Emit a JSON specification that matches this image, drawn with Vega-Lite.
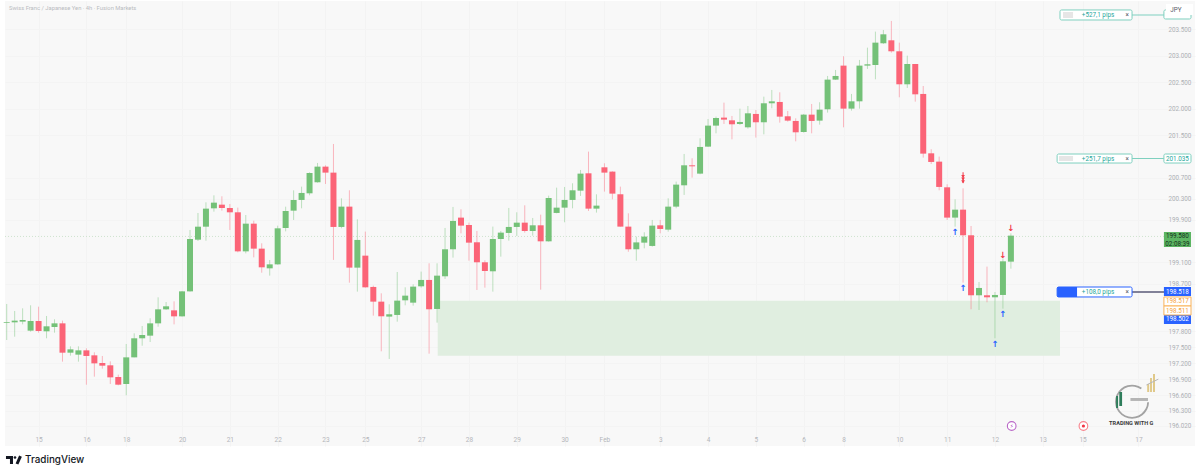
{
  "$schema": "https://vega.github.io/schema/vega-lite/v6.json",
  "description": "CHF/JPY 4h candlestick chart with demand zone and price tags.",
  "width": 1190,
  "height": 445,
  "padding": {"left": 5, "top": 1, "right": 5, "bottom": 29},
  "autosize": "none",
  "background": "#ffffff",
  "view": {"fill": "#f8f8f8", "stroke": null},
  "config": {"text": {"font": "Roboto"}, "axis": {"labelFont": "Roboto", "labelOverlap": false}},
  "datasets": {
    "candles": [
      {"i":0,"dir":"up","open":197.965,"high":198.317,"low":197.638,"close":197.977},
      {"i":1,"dir":"up","open":197.971,"high":198.185,"low":197.701,"close":198.003},
      {"i":2,"dir":"up","open":197.984,"high":198.235,"low":197.933,"close":198.015},
      {"i":3,"dir":"up","open":197.814,"high":198.292,"low":197.795,"close":197.996},
      {"i":4,"dir":"down","open":197.996,"high":198.266,"low":197.776,"close":197.808},
      {"i":5,"dir":"up","open":197.802,"high":198.091,"low":197.670,"close":197.896},
      {"i":6,"dir":"up","open":197.883,"high":198.028,"low":197.776,"close":197.952},
      {"i":7,"dir":"down","open":197.952,"high":198.003,"low":197.230,"close":197.399},
      {"i":8,"dir":"up","open":197.399,"high":197.519,"low":197.343,"close":197.462},
      {"i":9,"dir":"up","open":197.362,"high":197.519,"low":197.230,"close":197.443},
      {"i":10,"dir":"down","open":197.443,"high":197.481,"low":196.796,"close":197.337},
      {"i":11,"dir":"down","open":197.349,"high":197.406,"low":196.947,"close":197.198},
      {"i":12,"dir":"down","open":197.205,"high":197.337,"low":197.098,"close":197.154},
      {"i":13,"dir":"down","open":197.161,"high":197.236,"low":196.809,"close":196.934},
      {"i":14,"dir":"down","open":196.941,"high":196.985,"low":196.784,"close":196.796},
      {"i":15,"dir":"up","open":196.809,"high":197.563,"low":196.595,"close":197.311},
      {"i":16,"dir":"up","open":197.311,"high":197.764,"low":197.311,"close":197.670},
      {"i":17,"dir":"up","open":197.670,"high":197.902,"low":197.531,"close":197.732},
      {"i":18,"dir":"up","open":197.720,"high":198.047,"low":197.600,"close":197.952},
      {"i":19,"dir":"up","open":197.952,"high":198.442,"low":197.889,"close":198.216},
      {"i":20,"dir":"up","open":198.216,"high":198.354,"low":198.204,"close":198.273},
      {"i":21,"dir":"down","open":198.197,"high":198.367,"low":197.933,"close":198.084},
      {"i":22,"dir":"up","open":198.084,"high":198.562,"low":198.078,"close":198.555},
      {"i":23,"dir":"up","open":198.555,"high":199.712,"low":198.549,"close":199.542},
      {"i":24,"dir":"up","open":199.529,"high":200.032,"low":199.504,"close":199.774},
      {"i":25,"dir":"up","open":199.774,"high":200.233,"low":199.510,"close":200.114},
      {"i":26,"dir":"up","open":200.120,"high":200.365,"low":200.057,"close":200.227},
      {"i":27,"dir":"down","open":200.189,"high":200.346,"low":200.076,"close":200.126},
      {"i":28,"dir":"down","open":200.126,"high":200.202,"low":199.712,"close":200.045},
      {"i":29,"dir":"down","open":200.045,"high":200.133,"low":199.291,"close":199.309},
      {"i":30,"dir":"up","open":199.309,"high":199.994,"low":199.272,"close":199.831},
      {"i":31,"dir":"down","open":199.831,"high":199.887,"low":199.196,"close":199.360},
      {"i":32,"dir":"down","open":199.360,"high":199.460,"low":198.907,"close":199.008},
      {"i":33,"dir":"up","open":198.989,"high":199.146,"low":198.851,"close":199.064},
      {"i":34,"dir":"up","open":199.064,"high":199.793,"low":199.058,"close":199.743},
      {"i":35,"dir":"up","open":199.749,"high":200.151,"low":199.686,"close":200.070},
      {"i":36,"dir":"up","open":200.076,"high":200.459,"low":199.900,"close":200.277},
      {"i":37,"dir":"up","open":200.278,"high":200.529,"low":200.120,"close":200.410},
      {"i":38,"dir":"up","open":200.403,"high":200.799,"low":200.366,"close":200.786},
      {"i":39,"dir":"up","open":200.611,"high":200.975,"low":200.604,"close":200.906},
      {"i":40,"dir":"down","open":200.906,"high":200.931,"low":200.579,"close":200.793},
      {"i":41,"dir":"down","open":200.793,"high":201.333,"low":199.147,"close":199.769},
      {"i":42,"dir":"up","open":199.769,"high":200.309,"low":199.744,"close":200.152},
      {"i":43,"dir":"down","open":200.152,"high":200.460,"low":198.719,"close":199.002},
      {"i":44,"dir":"up","open":199.002,"high":199.913,"low":198.550,"close":199.524},
      {"i":45,"dir":"down","open":199.228,"high":199.681,"low":198.625,"close":198.631},
      {"i":46,"dir":"down","open":198.638,"high":198.663,"low":198.097,"close":198.361},
      {"i":47,"dir":"down","open":198.361,"high":198.518,"low":197.425,"close":198.085},
      {"i":48,"dir":"up","open":198.079,"high":198.311,"low":197.281,"close":198.123},
      {"i":49,"dir":"up","open":198.110,"high":198.920,"low":197.984,"close":198.380},
      {"i":50,"dir":"up","open":198.386,"high":198.631,"low":198.292,"close":198.474},
      {"i":51,"dir":"up","open":198.342,"high":198.688,"low":198.286,"close":198.644},
      {"i":52,"dir":"up","open":198.650,"high":198.927,"low":198.625,"close":198.770},
      {"i":53,"dir":"down","open":198.770,"high":199.084,"low":197.381,"close":198.217},
      {"i":54,"dir":"up","open":198.223,"high":199.084,"low":197.965,"close":198.851},
      {"i":55,"dir":"up","open":198.839,"high":199.750,"low":198.789,"close":199.348},
      {"i":56,"dir":"up","open":199.348,"high":200.146,"low":199.191,"close":199.882},
      {"i":57,"dir":"down","open":199.945,"high":200.102,"low":199.649,"close":199.794},
      {"i":58,"dir":"down","open":199.806,"high":199.850,"low":199.134,"close":199.473},
      {"i":59,"dir":"down","open":199.480,"high":199.693,"low":198.581,"close":199.103},
      {"i":60,"dir":"down","open":199.103,"high":199.140,"low":198.625,"close":198.939},
      {"i":61,"dir":"up","open":198.933,"high":199.775,"low":198.550,"close":199.542},
      {"i":62,"dir":"up","open":199.542,"high":199.693,"low":199.209,"close":199.662},
      {"i":63,"dir":"up","open":199.656,"high":200.127,"low":199.511,"close":199.769},
      {"i":64,"dir":"up","open":199.769,"high":200.045,"low":199.599,"close":199.850},
      {"i":65,"dir":"down","open":199.850,"high":200.177,"low":199.662,"close":199.693},
      {"i":66,"dir":"up","open":199.693,"high":199.938,"low":199.605,"close":199.800},
      {"i":67,"dir":"down","open":199.800,"high":200.001,"low":198.587,"close":199.498},
      {"i":68,"dir":"up","open":199.498,"high":200.359,"low":199.492,"close":200.315},
      {"i":69,"dir":"up","open":200.033,"high":200.510,"low":200.026,"close":200.133},
      {"i":70,"dir":"up","open":200.133,"high":200.523,"low":199.857,"close":200.278},
      {"i":71,"dir":"up","open":200.278,"high":200.592,"low":200.120,"close":200.460},
      {"i":72,"dir":"up","open":200.453,"high":200.843,"low":200.353,"close":200.774},
      {"i":73,"dir":"down","open":200.780,"high":201.189,"low":200.070,"close":200.114},
      {"i":74,"dir":"up","open":200.114,"high":200.384,"low":200.039,"close":200.171},
      {"i":75,"dir":"down","open":200.893,"high":200.969,"low":200.435,"close":200.793},
      {"i":76,"dir":"down","open":200.812,"high":200.818,"low":200.290,"close":200.397},
      {"i":77,"dir":"down","open":200.385,"high":200.529,"low":199.775,"close":199.775},
      {"i":78,"dir":"down","open":199.775,"high":200.026,"low":199.302,"close":199.348},
      {"i":79,"dir":"up","open":199.348,"high":199.587,"low":199.133,"close":199.478},
      {"i":80,"dir":"up","open":199.473,"high":199.668,"low":199.366,"close":199.587},
      {"i":81,"dir":"up","open":199.411,"high":199.901,"low":199.398,"close":199.794},
      {"i":82,"dir":"down","open":199.800,"high":199.901,"low":199.649,"close":199.731},
      {"i":83,"dir":"up","open":199.718,"high":200.309,"low":199.681,"close":200.152},
      {"i":84,"dir":"up","open":200.152,"high":200.623,"low":200.121,"close":200.567},
      {"i":85,"dir":"up","open":200.554,"high":201.145,"low":200.372,"close":200.931},
      {"i":86,"dir":"down","open":200.931,"high":201.063,"low":200.699,"close":200.912},
      {"i":87,"dir":"up","open":200.774,"high":201.440,"low":200.762,"close":201.277},
      {"i":88,"dir":"up","open":201.283,"high":201.804,"low":201.277,"close":201.679},
      {"i":89,"dir":"up","open":201.679,"high":201.848,"low":201.534,"close":201.823},
      {"i":90,"dir":"down","open":201.830,"high":202.112,"low":201.710,"close":201.792},
      {"i":91,"dir":"down","open":201.779,"high":201.861,"low":201.421,"close":201.704},
      {"i":92,"dir":"up","open":201.710,"high":201.999,"low":201.691,"close":201.748},
      {"i":93,"dir":"up","open":201.647,"high":202.049,"low":201.622,"close":201.911},
      {"i":94,"dir":"down","open":201.899,"high":201.974,"low":201.453,"close":201.742},
      {"i":95,"dir":"up","open":201.742,"high":202.225,"low":201.515,"close":202.100},
      {"i":96,"dir":"up","open":202.100,"high":202.351,"low":202.006,"close":202.137},
      {"i":97,"dir":"down","open":202.125,"high":202.307,"low":201.735,"close":201.848},
      {"i":98,"dir":"down","open":201.855,"high":201.955,"low":201.754,"close":201.773},
      {"i":99,"dir":"down","open":201.767,"high":201.817,"low":201.383,"close":201.553},
      {"i":100,"dir":"up","open":201.559,"high":201.899,"low":201.547,"close":201.886},
      {"i":101,"dir":"down","open":201.886,"high":202.087,"low":201.534,"close":201.767},
      {"i":102,"dir":"up","open":201.773,"high":202.119,"low":201.698,"close":201.980},
      {"i":103,"dir":"up","open":201.987,"high":202.615,"low":201.924,"close":202.546},
      {"i":104,"dir":"up","open":202.546,"high":202.728,"low":202.540,"close":202.615},
      {"i":105,"dir":"down","open":202.810,"high":202.986,"low":201.647,"close":201.999},
      {"i":106,"dir":"up","open":201.999,"high":202.276,"low":201.962,"close":202.137},
      {"i":107,"dir":"up","open":202.137,"high":202.917,"low":201.999,"close":202.810},
      {"i":108,"dir":"up","open":202.810,"high":203.149,"low":202.747,"close":202.835},
      {"i":109,"dir":"up","open":202.822,"high":203.451,"low":202.552,"close":203.243},
      {"i":110,"dir":"up","open":203.231,"high":203.482,"low":203.218,"close":203.400},
      {"i":111,"dir":"down","open":203.287,"high":203.652,"low":203.055,"close":203.080},
      {"i":112,"dir":"down","open":203.080,"high":203.243,"low":202.213,"close":202.458},
      {"i":113,"dir":"up","open":202.458,"high":202.998,"low":202.389,"close":202.841},
      {"i":114,"dir":"down","open":202.841,"high":202.841,"low":202.131,"close":202.269},
      {"i":115,"dir":"down","open":202.276,"high":202.426,"low":201.076,"close":201.151},
      {"i":116,"dir":"down","open":201.157,"high":201.233,"low":200.956,"close":200.994},
      {"i":117,"dir":"down","open":201.000,"high":201.094,"low":200.460,"close":200.523},
      {"i":118,"dir":"down","open":200.516,"high":200.573,"low":199.901,"close":199.945},
      {"i":119,"dir":"up","open":199.945,"high":200.290,"low":199.775,"close":200.095},
      {"i":120,"dir":"down","open":200.095,"high":200.497,"low":198.719,"close":199.612},
      {"i":121,"dir":"down","open":199.612,"high":199.787,"low":198.217,"close":198.481},
      {"i":122,"dir":"up","open":198.481,"high":198.732,"low":198.204,"close":198.619},
      {"i":123,"dir":"down","open":198.481,"high":199.021,"low":198.349,"close":198.443},
      {"i":124,"dir":"up","open":198.443,"high":198.543,"low":197.670,"close":198.487},
      {"i":125,"dir":"up","open":198.487,"high":199.178,"low":198.229,"close":199.121},
      {"i":126,"dir":"up","open":199.115,"high":199.649,"low":198.983,"close":199.605}
    ]
  },
  "encoding": {
    "x": {
      "field": "i",
      "type": "quantitative",
      "scale": {"domain": [-0.213, 149.1], "nice": false, "zero": false, "padding": 0},
      "axis": {
        "title": null,
        "domain": false,
        "ticks": false,
        "grid": true,
        "gridColor": "#f3f3f3",
        "tickCount": 60,
        "values": [4,10,15,22,28,34,40,45,52,58,64,70,75,82,88,94,100,105,112,118,124,130,135,142],
        "labelExpr": "{'4':'15','10':'16','15':'18','22':'20','28':'21','34':'22','40':'23','45':'25','52':'27','58':'28','64':'29','70':'30','75':'Feb','82':'3','88':'4','94':'5','100':'6','105':'8','112':'10','118':'11','124':'12','130':'13','135':'15','142':'17'}[datum.value]",
        "labelColor": "#b4b6ba",
        "labelFontSize": 6.5,
        "labelPadding": -10,
        "labelFlush": false,
        "labelOverlap": false
      }
    },
    "y": {
      "field": "p",
      "type": "quantitative",
      "title": null,
      "scale": {"domain": [195.64, 204.028], "nice": false, "zero": false},
      "axis": {
        "title": null,
        "orient": "right",
        "domain": false,
        "ticks": false,
        "grid": true,
        "gridColor": "#f4f4f4",
        "tickCount": 60,
        "values": [203.5,203,202.5,202,201.5,200.7,200.3,199.9,199.1,198.7,197.8,197.5,197.2,196.9,196.6,196.3,196.02],
        "format": ".3f",
        "labelColor": "#adb0b5",
        "labelFontSize": 6.3,
        "labelPadding": -27,
        "labelFlush": false,
        "labelOverlap": false
      }
    }
  },
  "layer": [
    {
      "data": {"values": [{"i": 54.08, "i2": 132.16, "p": 198.379, "p2": 197.342}]},
      "mark": {"type": "rect", "fill": "#e0eee0"},
      "encoding": {"x2": {"field": "i2"}, "y2": {"field": "p2"}}
    },
    {
      "data": {"values": [{"i": -0.213, "i2": 145.2, "p": 199.59}]},
      "mark": {"type": "rule", "color": "#cfe3cf", "strokeWidth": 1, "strokeDash": [1, 2]},
      "encoding": {"x2": {"field": "i2"}}
    },
    {
      "data": {"name": "candles"},
      "mark": {"type": "rule", "strokeWidth": 1, "opacity": 0.45},
      "encoding": {
        "y": {"field": "high", "type": "quantitative", "title": null, "scale": {"domain": [195.64, 204.028], "nice": false, "zero": false}, "axis": {"orient": "right", "title": null, "labelOverlap": false, "tickCount": 60}},
        "y2": {"field": "low"},
        "color": {"field": "dir", "type": "nominal", "scale": {"domain": ["up", "down"], "range": ["#74c178", "#fb6477"]}, "legend": null}
      }
    },
    {
      "data": {"name": "candles"},
      "mark": {"type": "bar", "size": 6},
      "encoding": {
        "y": {"field": "open", "type": "quantitative", "title": null, "scale": {"domain": [195.64, 204.028], "nice": false, "zero": false}, "axis": {"orient": "right", "title": null, "labelOverlap": false, "tickCount": 60}},
        "y2": {"field": "close"},
        "color": {"field": "dir", "type": "nominal", "scale": {"domain": ["up", "down"], "range": ["#74c178", "#fb6477"]}, "legend": null}
      }
    },
    {
      "data": {"values": [
        {"i": 141.2, "i2": 145.3, "p": 203.764},
        {"i": 141.2, "i2": 145.3, "p": 201.059}
      ]},
      "mark": {"type": "rule", "color": "#7fd0bf", "strokeWidth": 1.2},
      "encoding": {"x2": {"field": "i2"}}
    },
    {
      "data": {"values": [{"i": 141.2, "i2": 145.3, "p": 198.543}]},
      "mark": {"type": "rule", "color": "#5a5a78", "strokeWidth": 1.5},
      "encoding": {"x2": {"field": "i2"}}
    },
    {
      "data": {"values": [
        {"i": 132.16, "i2": 141.2, "p": 203.859, "p2": 203.67},
        {"i": 131.8, "i2": 141.2, "p": 201.144, "p2": 200.974},
        {"i": 145.2, "i2": 148.6, "p": 201.144, "p2": 200.974},
        {"i": 145.2, "i2": 148.6, "p": 203.859, "p2": 203.689}
      ]},
      "mark": {"type": "rect", "fill": "#ffffff", "stroke": "#7fd0bf", "strokeWidth": 1, "cornerRadius": 1.5},
      "encoding": {"x2": {"field": "i2"}, "y2": {"field": "p2"}}
    },
    {
      "data": {"values": [{"i": 131.8, "i2": 141.2, "p": 198.637, "p2": 198.449}]},
      "mark": {"type": "rect", "fill": "#ffffff", "stroke": "#2962ff", "strokeWidth": 1, "cornerRadius": 1.5},
      "encoding": {"x2": {"field": "i2"}, "y2": {"field": "p2"}}
    },
    {
      "data": {"values": [
        {"i": 132.54, "i2": 133.8, "p": 203.821, "p2": 203.708},
        {"i": 132.04, "i2": 133.8, "p": 201.106, "p2": 201.012}
      ]},
      "mark": {"type": "rect", "fill": "#e6e6e6"},
      "encoding": {"x2": {"field": "i2"}, "y2": {"field": "p2"}}
    },
    {
      "data": {"values": [
        {"i": 131.8, "i2": 134.3, "p": 198.637, "p2": 198.449},
        {"i": 145.2, "i2": 148.6, "p": 198.637, "p2": 198.467},
        {"i": 145.2, "i2": 148.6, "p": 198.109, "p2": 197.94}
      ]},
      "mark": {"type": "rect", "fill": "#2962ff"},
      "encoding": {"x2": {"field": "i2"}, "y2": {"field": "p2"}}
    },
    {
      "data": {"values": [
        {"i": 145.2, "i2": 148.6, "p": 198.449, "p2": 198.279},
        {"i": 145.2, "i2": 148.6, "p": 198.279, "p2": 198.109}
      ]},
      "mark": {"type": "rect", "fill": "#ffffff", "stroke": "#f9b35c", "strokeWidth": 1},
      "encoding": {"x2": {"field": "i2"}, "y2": {"field": "p2"}}
    },
    {
      "data": {"values": [{"i": 145.2, "i2": 148.6, "p": 199.674, "p2": 199.391}]},
      "mark": {"type": "rect", "fill": "#5cb562"},
      "encoding": {"x2": {"field": "i2"}, "y2": {"field": "p2"}}
    },
    {
      "data": {"values": [{"i": 145.46, "i2": 148.85, "p": 203.971, "p2": 203.764}]},
      "mark": {"type": "rect", "fill": "#ffffff"},
      "encoding": {"x2": {"field": "i2"}, "y2": {"field": "p2"}}
    },
    {
      "data": {"values": [
        {"i": 136.93, "p": 203.764, "label": "+527,1 pips"},
        {"i": 136.93, "p": 201.059, "label": "+251,7 pips"},
        {"i": 136.93, "p": 198.543, "label": "+108,0 pips"},
        {"i": 146.9, "p": 201.059, "label": "201.035"}
      ]},
      "mark": {"type": "text", "color": "#26a69a", "fontSize": 6.3},
      "encoding": {"text": {"field": "label"}}
    },
    {
      "data": {"values": [
        {"i": 140.6, "p": 203.764, "label": "×"},
        {"i": 140.6, "p": 201.059, "label": "×"},
        {"i": 140.6, "p": 198.543, "label": "×"},
        {"i": 146.7, "p": 203.865, "label": "JPY"}
      ]},
      "mark": {"type": "text", "color": "#555a66", "fontSize": 6.3},
      "encoding": {"text": {"field": "label"}}
    },
    {
      "data": {"values": [
        {"i": 146.9, "p": 198.552, "label": "198.518"},
        {"i": 146.9, "p": 198.025, "label": "198.502"}
      ]},
      "mark": {"type": "text", "color": "#ffffff", "fontSize": 6.3},
      "encoding": {"text": {"field": "label"}}
    },
    {
      "data": {"values": [
        {"i": 146.9, "p": 198.364, "label": "198.517"},
        {"i": 146.9, "p": 198.194, "label": "198.511"}
      ]},
      "mark": {"type": "text", "color": "#f5a03c", "fontSize": 6.3},
      "encoding": {"text": {"field": "label"}}
    },
    {
      "data": {"values": [
        {"i": 146.9, "p": 199.589, "label": "199.580"},
        {"i": 146.9, "p": 199.457, "label": "02:08:39"}
      ]},
      "mark": {"type": "text", "color": "#14301a", "fontSize": 6.3},
      "encoding": {"text": {"field": "label"}}
    },
    {
      "data": {"values": [{"i": 0.29, "p": 203.89, "label": "Swiss Franc / Japanese Yen · 4h · Fusion Markets"}]},
      "mark": {"type": "text", "color": "#b9bbbf", "fontSize": 5.8, "align": "left"},
      "encoding": {"text": {"field": "label"}}
    },
    {
      "data": {"values": [
        {"i": 119, "p": 199.674, "label": "↑"},
        {"i": 120, "p": 198.618, "label": "↑"},
        {"i": 125, "p": 198.128, "label": "↑"},
        {"i": 124, "p": 197.563, "label": "↑"}
      ]},
      "mark": {"type": "text", "color": "#2962ff", "font": "DejaVu Sans", "fontSize": 8.5, "fontWeight": "bold"},
      "encoding": {"text": {"field": "label"}}
    },
    {
      "data": {"values": [
        {"i": 125, "p": 199.24, "label": "↓"},
        {"i": 126, "p": 199.749, "label": "↓"}
      ]},
      "mark": {"type": "text", "color": "#f23645", "font": "DejaVu Sans", "fontSize": 8.5, "fontWeight": "bold"},
      "encoding": {"text": {"field": "label"}}
    },
    {
      "data": {"values": [{"i": 120, "p": 200.8, "p2": 200.6}]},
      "mark": {"type": "rule", "color": "#f23645", "strokeWidth": 1},
      "encoding": {"y2": {"field": "p2"}}
    },
    {
      "data": {"values": [
        {"i": 120, "p": 200.72},
        {"i": 120, "p": 200.67},
        {"i": 120, "p": 200.62}
      ]},
      "mark": {"type": "point", "shape": "triangle-down", "size": 14, "filled": true, "color": "#f23645", "opacity": 0.9}
    },
    {
      "data": {"values": [{"i": 126.1, "p": 196.017}]},
      "mark": {"type": "point", "shape": "circle", "size": 75, "filled": false, "fill": "#ffffff", "fillOpacity": 1, "stroke": "#ba68c8", "strokeWidth": 1.1}
    },
    {
      "data": {"values": [{"i": 126.1, "p": 196.017, "label": "⚡"}]},
      "mark": {"type": "text", "color": "#9c27b0", "font": "DejaVu Sans", "fontSize": 5.5},
      "encoding": {"text": {"field": "label"}}
    },
    {
      "data": {"values": [{"i": 135.1, "p": 196.017}]},
      "mark": {"type": "point", "shape": "circle", "size": 75, "filled": false, "fill": "#ffffff", "fillOpacity": 1, "stroke": "#f7828c", "strokeWidth": 1.1}
    },
    {
      "data": {"values": [{"i": 135.1, "p": 196.017}]},
      "mark": {"type": "point", "shape": "circle", "size": 10, "filled": true, "color": "#f23645", "opacity": 1}
    },
    {
      "data": {"values": [{"i": 141.2, "p": 196.475}]},
      "mark": {"type": "arc", "radius": 17, "radius2": 15.2, "theta": 1.6, "theta2": 6.9, "fill": "#a3a3a3"}
    },
    {
      "data": {"values": [{"i": 141.0, "i2": 143.2, "p": 196.545, "p2": 196.489}]},
      "mark": {"type": "rect", "fill": "#b5b5b5"},
      "encoding": {"x2": {"field": "i2"}, "y2": {"field": "p2"}}
    },
    {
      "data": {"values": [
        {"i": 139.2, "i2": 139.45, "p": 196.582, "p2": 196.356},
        {"i": 139.6, "i2": 139.95, "p": 196.658, "p2": 196.394}
      ]},
      "mark": {"type": "rect", "fill": "#2e7d5b"},
      "encoding": {"x2": {"field": "i2"}, "y2": {"field": "p2"}}
    },
    {
      "data": {"values": [
        {"i": 143.1, "i2": 143.35, "p": 196.809, "p2": 196.658},
        {"i": 143.46, "i2": 143.7, "p": 196.922, "p2": 196.658},
        {"i": 143.83, "i2": 144.08, "p": 196.997, "p2": 196.658}
      ]},
      "mark": {"type": "rect", "fill": "#e0c98a"},
      "encoding": {"x2": {"field": "i2"}, "y2": {"field": "p2"}}
    },
    {
      "data": {"values": [{"i": 143.0, "i2": 144.5, "p": 196.79, "p2": 196.9}]},
      "mark": {"type": "rule", "color": "#b8b8b8", "strokeWidth": 1},
      "encoding": {"x2": {"field": "i2"}, "y2": {"field": "p2"}}
    },
    {
      "data": {"values": [{"i": 141.1, "p": 196.073, "label": "TRADING WITH G"}]},
      "mark": {"type": "text", "color": "#3a3a3a", "fontSize": 5.6, "fontWeight": "bold"},
      "encoding": {"text": {"field": "label"}}
    },
    {
      "data": {"values": [{"i": 2.3, "p": 195.376, "label": "TradingView"}]},
      "mark": {"type": "text", "color": "#131722", "fontSize": 9.9, "fontWeight": 500, "align": "left", "font": "Inter"},
      "encoding": {"text": {"field": "label"}}
    },
    {
      "data": {"values": [
        {"i": -0.09, "i2": 0.79, "p": 195.451, "p2": 195.395},
        {"i": 0.41, "i2": 0.79, "p": 195.451, "p2": 195.301}
      ]},
      "mark": {"type": "rect", "fill": "#131722"},
      "encoding": {"x2": {"field": "i2"}, "y2": {"field": "p2"}}
    },
    {
      "data": {"values": [{"i": 1.04, "p": 195.423}]},
      "mark": {"type": "point", "shape": "circle", "size": 7, "filled": true, "color": "#131722", "opacity": 1}
    },
    {
      "data": {"values": [{"i": 1.73, "i2": 1.29, "p": 195.451, "p2": 195.301}]},
      "mark": {"type": "rule", "color": "#131722", "strokeWidth": 3},
      "encoding": {"x2": {"field": "i2"}, "y2": {"field": "p2"}}
    }
  ]
}
